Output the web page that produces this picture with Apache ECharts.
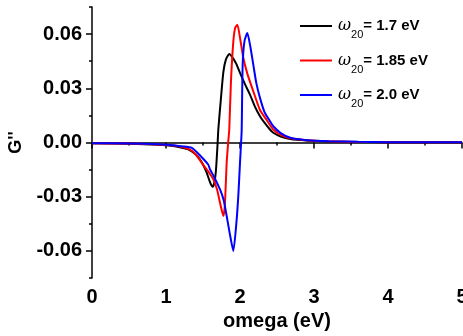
<!DOCTYPE html>
<html>
<head>
<meta charset="utf-8">
<script src="https://cdn.jsdelivr.net/npm/echarts@6/dist/echarts.min.js"></script>
<style>
  html, body { margin: 0; padding: 0; background: #fff; }
  #chart { width: 463px; height: 336px; }
</style>
</head>
<body>
<div id="chart"></div>
<script>
// omega (eV), G''
const black17 = [
  [0, -0.0004], [0.5, -0.0007], [0.9, -0.0013], [1.1, -0.002], [1.2, -0.0028],
  [1.3, -0.0038], [1.4, -0.0065], [1.46, -0.0094], [1.5, -0.0122], [1.55, -0.0167],
  [1.595, -0.022], [1.63, -0.0245], [1.655, -0.022], [1.676, -0.0149], [1.698, 0],
  [1.707, 0.0072], [1.743, 0.0247], [1.775, 0.039], [1.81, 0.046], [1.855, 0.049],
  [1.9, 0.047], [1.95, 0.0435], [2.0, 0.0385], [2.07, 0.032], [2.135, 0.0265],
  [2.2, 0.020], [2.27, 0.0145], [2.315, 0.0118], [2.405, 0.0072], [2.45, 0.0054],
  [2.55, 0.0033], [2.68, 0.0019], [2.9, 0.0011], [3.2, 0.0006], [3.6, 0.0003],
  [4, 0.0002], [5, 0.0001]
];
const red185 = [
  [0, -0.0004], [0.5, -0.0006], [0.9, -0.0011], [1.1, -0.0017], [1.2, -0.0024],
  [1.324, -0.004], [1.4, -0.0065], [1.505, -0.0125], [1.58, -0.0165], [1.64, -0.0204],
  [1.69, -0.026], [1.73, -0.0333], [1.775, -0.0407], [1.795, -0.035], [1.82, -0.0112],
  [1.84, 0], [1.855, 0.0072], [1.878, 0.034], [1.91, 0.056], [1.935, 0.0635],
  [1.964, 0.0652], [2.0, 0.058], [2.045, 0.0468], [2.1, 0.038], [2.18, 0.0283],
  [2.27, 0.018], [2.36, 0.0125], [2.45, 0.0072], [2.55, 0.0042], [2.68, 0.0023],
  [2.9, 0.0012], [3.2, 0.0007], [3.6, 0.0003], [4, 0.0002], [5, 0.0001]
];
const blue20 = [
  [0, -0.0004], [0.5, -0.0005], [0.9, -0.001], [1.1, -0.0015], [1.2, -0.0021],
  [1.35, -0.003], [1.46, -0.0072], [1.57, -0.0122], [1.595, -0.0149], [1.65, -0.019],
  [1.73, -0.026], [1.78, -0.032], [1.82, -0.0407], [1.86, -0.05], [1.91, -0.060],
  [1.95, -0.045], [1.977, -0.0297], [2.0, -0.0112], [2.015, 0], [2.023, 0.0072],
  [2.036, 0.043], [2.06, 0.056], [2.099, 0.0606], [2.14, 0.053], [2.18, 0.043],
  [2.22, 0.033], [2.27, 0.0247], [2.33, 0.017], [2.405, 0.0118], [2.45, 0.009],
  [2.55, 0.0052], [2.68, 0.0026], [2.9, 0.0013], [3.2, 0.0007], [3.6, 0.0004],
  [4, 0.0002], [5, 0.0001]
];
const seriesNames = ['1.7', '1.85', '2.0'];
const seriesColors = ['#000000', '#ff0000', '#0000ff'];
const seriesData = [black17, red185, blue20];

const font = 'Arial, "Liberation Sans", sans-serif';

const myChart = echarts.init(document.getElementById('chart'));
const option = {
  animation: false,
  backgroundColor: '#fff',
  grid: { left: 92, right: 1, top: 7, bottom: 58, outerBoundsMode: 'none' },
  legend: {
    orient: 'vertical',
    left: 300,
    top: 18,
    padding: 0,
    itemWidth: 32,
    itemHeight: 2,
    itemGap: 12,
    icon: 'rect',
    data: seriesNames,
    formatter: function (name) {
      return '{w|ω}{s|20}{t|= ' + name + ' eV}';
    },
    textStyle: {
      rich: {
        w: { fontFamily: '"DejaVu Serif", serif', fontStyle: 'italic', fontSize: 16, color: '#000', padding: [0, 0, 0, 1] },
        s: { fontFamily: font, fontSize: 11, color: '#000', padding: [18, 0, 0, 0] },
        t: { fontFamily: font, fontWeight: 'bold', fontSize: 15, color: '#000' }
      }
    }
  },
  xAxis: [{
    type: 'value',
    min: 0, max: 5, interval: 1,
    name: 'omega (eV)',
    nameLocation: 'middle',
    nameGap: 32,
    nameTextStyle: { fontFamily: font, fontWeight: 'bold', fontSize: 20, color: '#000' },
    axisLine: { lineStyle: { color: '#000', width: 1.5 } },
    axisTick: { length: 6, lineStyle: { color: '#000', width: 1.5 } },
    minorTick: { show: true, splitNumber: 2, length: 3, lineStyle: { color: '#000', width: 1.5 } },
    axisLabel: { margin: 9, fontFamily: font, fontWeight: 'bold', fontSize: 20, color: '#000' },
    splitLine: { show: false }
  }],
  yAxis: [{
    type: 'value',
    min: -0.075, max: 0.075, interval: 0.015,
    name: "G''",
    nameLocation: 'middle',
    nameGap: 49,
    nameTextStyle: { fontFamily: font, fontWeight: 'bold', fontSize: 18, color: '#000' },
    axisLine: { lineStyle: { color: '#000', width: 1.5 } },
    axisTick: { length: 3, lineStyle: { color: '#000', width: 1.5 } },
    axisLabel: {
      margin: 10, fontFamily: font, fontWeight: 'bold', fontSize: 20, color: '#000',
      formatter: function (v) {
        const k = Math.round(v / 0.015);
        if (k % 2 !== 0) return '';
        const r = Math.round(v * 1000) / 1000;
        return r.toFixed(2);
      }
    },
    splitLine: { show: false }
  }, {
    type: 'value',
    position: 'left',
    min: -0.075, max: 0.075, interval: 0.015,
    axisLine: { show: false },
    axisLabel: { show: false },
    axisTick: {
      length: 6, lineStyle: { color: '#000', width: 1.5 },
      customValues: [-0.06, -0.03, 0, 0.03, 0.06]
    },
    splitLine: { show: false }
  }],
  series: seriesNames.map(function (n, i) {
    return {
      name: n,
      type: 'line',
      data: seriesData[i],
      showSymbol: false,
      smooth: 0.2,
      lineStyle: { color: seriesColors[i], width: 2 },
      itemStyle: { color: seriesColors[i] }
    };
  })
};
myChart.setOption(option);
</script>
</body>
</html>
